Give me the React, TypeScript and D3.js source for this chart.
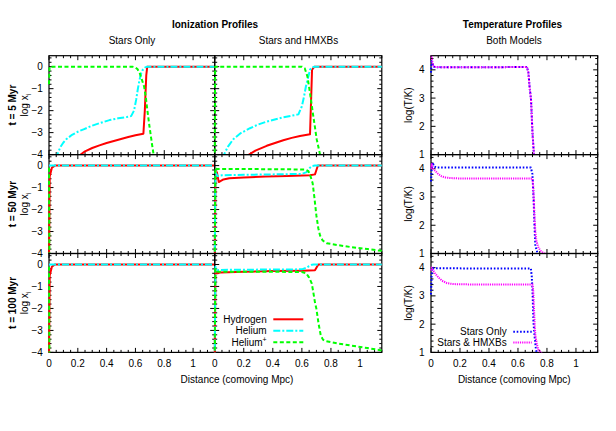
import React from 'react';
import * as d3 from 'd3';

type Pt = [number, number];

// ---------- tick values & labels ----------
const xMajorTicks = [0, 0.2, 0.4, 0.6, 0.8, 1];
const xTickLabels = ['0', '0.2', '0.4', '0.6', '0.8', '1'];
const ionYTicks = [-4, -3, -2, -1, 0];
const ionYLabels = ['−4', '−3', '−2', '−1', '0'];
const tempYTicks = [1, 2, 3, 4];
const tempYLabels = ['1', '2', '3', '4'];
const rowLabels = ['t = 5 Myr', 't = 50 Myr', 't = 100 Myr'];
const columnTitles = ['Stars Only', 'Stars and HMXBs'];
const ionSeriesNames = ['Hydrogen', 'Helium', 'Helium'];
const tempSeriesNames = ['Stars Only', 'Stars & HMXBs'];

// ---------- ionization data: [distance (Mpc), log x_i] ----------
// t = 5 Myr, stars only
const h5Stars: Pt[] = [[0.2, -4.3], [0.22, -4.0], [0.25, -3.85], [0.3, -3.7], [0.35, -3.58], [0.4, -3.47], [0.45, -3.38], [0.5, -3.29], [0.55, -3.2], [0.6, -3.12], [0.655, -3.05], [0.665, -2.0], [0.675, -0.4], [0.682, 0], [1.15, 0]];
const he5Stars: Pt[] = [[0.05, -4.2], [0.057, -4.0], [0.08, -3.65], [0.1, -3.45], [0.12, -3.3], [0.16, -3.1], [0.2, -2.96], [0.24, -2.85], [0.3, -2.68], [0.36, -2.55], [0.42, -2.43], [0.48, -2.35], [0.54, -2.29], [0.57, -2.25], [0.59, -2.0], [0.605, -1.5], [0.617, -1.0], [0.628, -0.6], [0.64, -0.3], [0.65, -0.15], [0.665, -0.04], [0.68, 0], [1.15, 0]];
const hep5Stars: Pt[] = [[0, -0.8], [0.004, 0], [0.58, 0], [0.6, -0.03], [0.615, -0.12], [0.63, -0.3], [0.645, -0.6], [0.66, -0.9], [0.672, -1.4], [0.685, -2.1], [0.697, -2.7], [0.71, -3.3], [0.72, -3.75], [0.728, -4.1]];
// t = 5 Myr, stars and HMXBs
const h5Hmxb: Pt[] = [[0.22, -4.3], [0.236, -4.0], [0.28, -3.82], [0.358, -3.6], [0.42, -3.46], [0.472, -3.35], [0.53, -3.24], [0.587, -3.15], [0.656, -3.07], [0.663, -1.6], [0.67, -0.14], [0.686, 0], [1.15, 0]];
const he5Hmxb: Pt[] = [[0.058, -4.2], [0.064, -4.0], [0.09, -3.65], [0.128, -3.3], [0.18, -3.02], [0.243, -2.8], [0.3, -2.63], [0.358, -2.5], [0.42, -2.39], [0.472, -2.3], [0.53, -2.23], [0.576, -2.17], [0.6, -1.8], [0.615, -1.35], [0.628, -0.89], [0.645, -0.44], [0.656, -0.14], [0.67, -0.03], [0.686, 0], [1.15, 0]];
const hep5Hmxb: Pt[] = [[0, -4.5], [0.003, 0], [0.6, 0], [0.62, -0.08], [0.638, -0.44], [0.656, -1.2], [0.679, -2.27], [0.702, -3.3], [0.725, -4.0], [0.73, -4.2]];
// t = 50 Myr, stars only
const h50Stars: Pt[] = [[0, -4.5], [0.005, -0.5], [0.02, -0.1], [0.04, 0], [1.15, 0]];
const he50Stars: Pt[] = [[0, 0], [1.15, 0]];
const hep50Stars: Pt[] = [[0, -0.1], [0.003, -4.6]];
// t = 50 Myr, stars and HMXBs
const h50Hmxb: Pt[] = [[0, -4.5], [0.005, -0.6], [0.015, -0.3], [0.028, -0.75], [0.06, -0.63], [0.1, -0.58], [0.2, -0.54], [0.35, -0.5], [0.5, -0.47], [0.656, -0.44], [0.69, -0.4], [0.7, -0.2], [0.71, 0], [1.15, 0]];
const he50Hmxb: Pt[] = [[0, -4.5], [0.005, -0.3], [0.02, -0.48], [0.05, -0.44], [0.2, -0.42], [0.4, -0.4], [0.6, -0.38], [0.633, -0.3], [0.655, -0.1], [0.67, -0.02], [0.69, 0], [1.15, 0]];
const hep50Hmxb: Pt[] = [[0, -4.5], [0.004, -0.1], [0.012, -0.15], [0.1, -0.15], [0.3, -0.16], [0.5, -0.17], [0.62, -0.18], [0.645, -0.25], [0.66, -0.5], [0.674, -0.8], [0.686, -1.45], [0.7, -2.28], [0.713, -2.85], [0.725, -3.18], [0.743, -3.41], [0.77, -3.53], [0.85, -3.62], [0.93, -3.7], [1.05, -3.8], [1.15, -3.88]];
// t = 100 Myr, stars only
const h100Stars: Pt[] = [[0, -4.5], [0.005, -0.5], [0.02, -0.1], [0.04, 0], [1.15, 0]];
const he100Stars: Pt[] = [[0, 0], [1.15, 0]];
const hep100Stars: Pt[] = [[0, -0.1], [0.003, -4.6]];
// t = 100 Myr, stars and HMXBs
const h100Hmxb: Pt[] = [[0, -4.5], [0.005, -0.3], [0.02, -0.4], [0.04, -0.36], [0.2, -0.33], [0.4, -0.3], [0.6, -0.28], [0.69, -0.26], [0.7, -0.15], [0.713, 0], [1.15, 0]];
const he100Hmxb: Pt[] = [[0, -4.5], [0.005, -0.1], [0.02, -0.25], [0.1, -0.24], [0.4, -0.23], [0.6, -0.22], [0.63, -0.15], [0.65, -0.07], [0.67, -0.01], [0.68, 0], [1.15, 0]];
const hep100Hmxb: Pt[] = [[0, -4.5], [0.004, -0.2], [0.02, -0.33], [0.3, -0.33], [0.6, -0.34], [0.63, -0.4], [0.65, -0.6], [0.667, -0.85], [0.675, -1.12], [0.69, -1.72], [0.7, -2.02], [0.715, -2.7], [0.73, -3.23], [0.745, -3.42], [0.76, -3.48], [0.85, -3.6], [0.93, -3.68], [1.05, -3.8], [1.15, -3.91]];

// ---------- temperature data: [distance (Mpc), log(T/K)] ----------
const tStars5: Pt[] = [[0, 3.9], [0.005, 4.3], [0.015, 4.12], [0.03, 4.09], [0.1, 4.09], [0.4, 4.09], [0.6, 4.1], [0.662, 4.1], [0.672, 3.9], [0.68, 3.4], [0.69, 2.95], [0.7, 1.78], [0.71, 1.0], [0.715, 0.8]];
const tHmxb5: Pt[] = [[0, 4.7], [0.005, 4.4], [0.015, 4.15], [0.03, 4.1], [0.1, 4.09], [0.4, 4.09], [0.6, 4.1], [0.662, 4.1], [0.672, 3.9], [0.68, 3.4], [0.69, 2.95], [0.7, 1.78], [0.71, 1.0], [0.715, 0.8]];
const tStars50: Pt[] = [[0, 3.55], [0.005, 4.0], [0.012, 4.22], [0.02, 4.08], [0.04, 4.04], [0.3, 4.04], [0.6, 4.04], [0.689, 4.04], [0.7, 3.8], [0.708, 2.9], [0.714, 1.97], [0.72, 1.26], [0.73, 1.1], [0.74, 0.9]];
const tHmxb50: Pt[] = [[0, 4.0], [0.005, 4.16], [0.015, 4.0], [0.028, 3.93], [0.05, 3.81], [0.074, 3.73], [0.1, 3.69], [0.13, 3.67], [0.2, 3.655], [0.4, 3.65], [0.6, 3.65], [0.7, 3.65], [0.705, 3.4], [0.71, 2.8], [0.715, 2.2], [0.72, 1.75], [0.727, 1.45], [0.742, 1.2], [0.76, 1.07], [0.777, 1.02], [0.79, 0.98]];
const tStars100: Pt[] = [[0, 3.05], [0.004, 3.7], [0.01, 4.0], [0.02, 3.98], [0.3, 3.97], [0.6, 3.97], [0.689, 3.97], [0.695, 3.7], [0.7, 3.2], [0.707, 2.05], [0.714, 1.6], [0.723, 1.16], [0.73, 0.95], [0.735, 0.85]];
const tHmxb100: Pt[] = [[0, 3.9], [0.005, 4.0], [0.015, 3.9], [0.03, 3.78], [0.05, 3.66], [0.075, 3.54], [0.11, 3.45], [0.15, 3.42], [0.2, 3.41], [0.4, 3.4], [0.6, 3.4], [0.7, 3.4], [0.705, 3.2], [0.71, 2.6], [0.715, 2.0], [0.72, 1.6], [0.73, 1.3], [0.74, 1.1], [0.755, 1.0], [0.77, 0.95]];

const ionStarsRows = [[h5Stars, he5Stars, hep5Stars], [h50Stars, he50Stars, hep50Stars], [h100Stars, he100Stars, hep100Stars]];
const ionHmxbRows = [[h5Hmxb, he5Hmxb, hep5Hmxb], [h50Hmxb, he50Hmxb, hep50Hmxb], [h100Hmxb, he100Hmxb, hep100Hmxb]];
const tempRows = [[tStars5, tHmxb5], [tStars50, tHmxb50], [tStars100, tHmxb100]];

// ---------- styles ----------
const FONT = '"Liberation Sans", Arial, Helvetica, sans-serif';
const ionStyles = [
  { color: '#ff0000', dash: undefined as string | undefined },
  { color: '#00ffff', dash: '7,2,2,2' },
  { color: '#00ff00', dash: '4,2.5' },
];
const tempStyles = [
  { color: '#0000ff', dash: '1.6,1.8' },
  { color: '#ff00ff', dash: '1.2,1' },
];

const rowTop = 55.7;
const rowH = 98.9;
const colX: [number, number][] = [[49, 214.7], [214.7, 381.8], [431, 597.7]];
const X_MAX = 1.15;

interface PanelProps {
  id: string;
  x0: number; x1: number; y0: number; y1: number;
  yDomain: [number, number];
  yMajor: number[];
  series: Pt[][];
  styles: { color: string; dash?: string }[];
}

function Panel({ id, x0, x1, y0, y1, yDomain, yMajor, series, styles }: PanelProps) {
  const xs = d3.scaleLinear().domain([0, X_MAX]).range([x0, x1]);
  const ys = d3.scaleLinear().domain(yDomain).range([y1, y0]);
  const line = d3.line<Pt>().x((d) => xs(d[0])).y((d) => ys(d[1]));
  const xMinor = d3.range(0, X_MAX + 1e-9, 0.05);
  const yMinor = d3.range(yDomain[0], yDomain[1] + 1e-9, 0.2);
  const isMajor = (v: number, arr: number[]) => arr.some((a) => Math.abs(a - v) < 1e-6);
  const ticks: JSX.Element[] = [];
  xMinor.forEach((v, i) => {
    const L = isMajor(v, xMajorTicks) ? 4.5 : 2.5;
    const px = xs(v);
    ticks.push(<line key={'xb' + i} x1={px} x2={px} y1={y1} y2={y1 - L} />);
    ticks.push(<line key={'xt' + i} x1={px} x2={px} y1={y0} y2={y0 + L} />);
  });
  yMinor.forEach((v, i) => {
    const L = isMajor(v, yMajor) ? 4.5 : 2.5;
    const py = ys(v);
    ticks.push(<line key={'yl' + i} x1={x0} x2={x0 + L} y1={py} y2={py} />);
    ticks.push(<line key={'yr' + i} x1={x1} x2={x1 - L} y1={py} y2={py} />);
  });
  return (
    <g>
      <defs>
        <clipPath id={id}>
          <rect x={x0 - 1.5} y={y0} width={x1 - x0 + 3} height={y1 - y0} />
        </clipPath>
      </defs>
      <rect x={x0} y={y0} width={x1 - x0} height={y1 - y0} fill="none" stroke="#000" strokeWidth={1.2} />
      <g stroke="#000" strokeWidth={1}>{ticks}</g>
      <g clipPath={`url(#${id})`}>
        {series.map((s, i) => (
          <path key={i} d={line(s) || ''} fill="none" stroke={styles[i].color} strokeWidth={2}
            strokeDasharray={styles[i].dash} strokeLinejoin="round" />
        ))}
      </g>
    </g>
  );
}

export default function App() {
  const rows = [0, 1, 2];
  const bottom = rowTop + 3 * rowH;
  const xsCols = colX.map(([a, b]) => d3.scaleLinear().domain([0, X_MAX]).range([a, b]));
  const ionY = d3.scaleLinear().domain([-4, 0.5]).range([rowH, 0]);
  const tempY = d3.scaleLinear().domain([1, 4.5]).range([rowH, 0]);
  return (
    <svg width={616} height={431} style={{ position: 'absolute', left: 0, top: 0, background: '#fff' }}
      fontFamily={FONT} fontSize={10} fill="#000">
      {/* titles */}
      <text x={215} y={28.3} textAnchor="middle" fontWeight="bold">Ionization Profiles</text>
      <text x={132} y={44.3} textAnchor="middle">{columnTitles[0]}</text>
      <text x={298.5} y={44.3} textAnchor="middle">{columnTitles[1]}</text>
      <text x={512.5} y={28.3} textAnchor="middle" fontWeight="bold">Temperature Profiles</text>
      <text x={514} y={44.3} textAnchor="middle">Both Models</text>

      {rows.map((r) => {
        const y0 = rowTop + r * rowH;
        const y1 = y0 + rowH;
        const yc = (y0 + y1) / 2;
        return (
          <g key={r}>
            <Panel id={`c0r${r}`} x0={colX[0][0]} x1={colX[0][1]} y0={y0} y1={y1} yDomain={[-4, 0.5]}
              yMajor={ionYTicks} series={ionStarsRows[r]} styles={ionStyles} />
            <Panel id={`c1r${r}`} x0={colX[1][0]} x1={colX[1][1]} y0={y0} y1={y1} yDomain={[-4, 0.5]}
              yMajor={ionYTicks} series={ionHmxbRows[r]} styles={ionStyles} />
            <Panel id={`c2r${r}`} x0={colX[2][0]} x1={colX[2][1]} y0={y0} y1={y1} yDomain={[1, 4.5]}
              yMajor={tempYTicks} series={tempRows[r]} styles={tempStyles} />
            {/* y tick labels */}
            {ionYTicks.map((v, i) => (
              <text key={'iy' + i} x={42.8} y={y0 + ionY(v)} dy="0.35em" textAnchor="end">{ionYLabels[i]}</text>
            ))}
            {tempYTicks.map((v, i) => (
              <text key={'ty' + i} x={424.5} y={y0 + tempY(v)} dy="0.35em" textAnchor="end">{tempYLabels[i]}</text>
            ))}
            {/* row labels */}
            <text transform={`translate(12,${yc}) rotate(-90)`} textAnchor="middle" dy="0.35em" fontWeight="bold">{rowLabels[r]}</text>
            <text transform={`translate(24.5,${yc}) rotate(-90)`} textAnchor="middle" dy="0.35em">
              log x<tspan fontSize={7} dy="2.5">i</tspan>
            </text>
            <text transform={`translate(408.5,${yc}) rotate(-90)`} textAnchor="middle" dy="0.35em">log(T/K)</text>
          </g>
        );
      })}

      {/* x tick labels */}
      {xsCols.map((xs, c) => (
        <g key={'xl' + c}>
          {xMajorTicks.map((v, i) => (
            <text key={i} x={xs(v)} y={366.8} textAnchor="middle">{xTickLabels[i]}</text>
          ))}
        </g>
      ))}
      <text x={237} y={382.8} textAnchor="middle">Distance (comoving Mpc)</text>
      <text x={514.3} y={382.8} textAnchor="middle">Distance (comoving Mpc)</text>

      {/* ionization legend */}
      {ionSeriesNames.map((name, i) => {
        const yy = 319.3 + i * 11.5;
        return (
          <g key={'il' + i}>
            <text x={266.7} y={yy} dy="0.35em" textAnchor="end">
              {name}{i === 2 ? <tspan fontSize={7} dy="-4">+</tspan> : null}
            </text>
            <line x1={273.3} x2={303.3} y1={yy} y2={yy} stroke={ionStyles[i].color} strokeWidth={2}
              strokeDasharray={ionStyles[i].dash} />
          </g>
        );
      })}
      {/* temperature legend */}
      {tempSeriesNames.map((name, i) => {
        const yy = 331.7 + i * 10.8;
        return (
          <g key={'tl' + i}>
            <text x={506.7} y={yy} dy="0.35em" textAnchor="end">{name}</text>
            <line x1={513.3} x2={531.7} y1={yy} y2={yy} stroke={tempStyles[i].color} strokeWidth={2}
              strokeDasharray={tempStyles[i].dash} />
          </g>
        );
      })}
      <rect x={0} y={bottom + 200} width={0} height={0} />
    </svg>
  );
}
